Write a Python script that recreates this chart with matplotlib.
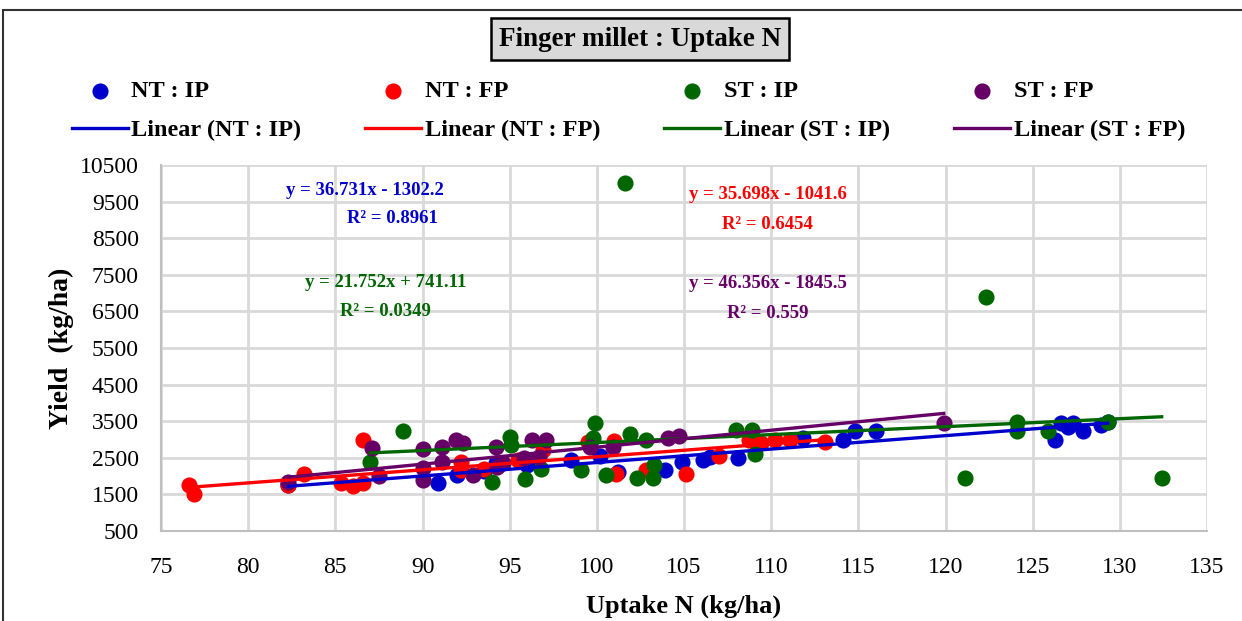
import matplotlib
matplotlib.use("Agg")
import matplotlib.pyplot as plt
from matplotlib.patches import Rectangle
import numpy as np

plt.rcParams["font.family"] = ["Liberation Serif", "DejaVu Serif"]

# NT : IP
nt_ip_x = [82.3, 90.9, 92.0, 93.5, 94.2, 96.0, 98.5, 100.2, 101.2, 103.9, 104.9, 106.1, 106.5,
           108.1, 111.8, 114.1, 114.8, 116.0, 126.3, 126.6, 127.0, 127.3, 127.9, 128.9, 129.3]
nt_ip_y = [1750, 1800, 2030, 2150, 2350, 2300, 2450, 2550, 2100, 2170, 2380, 2440, 2520,
           2500, 3040, 2990, 3220, 3220, 2980, 3450, 3350, 3460, 3220, 3400, 3480]
# NT : FP
nt_fp_x = [76.6, 76.9, 82.3, 83.2, 85.3, 86.0, 86.6, 86.6, 92.2, 92.2, 93.5, 95.5, 96.9, 99.5,
           101.0, 101.1, 102.8, 105.1, 107.0, 108.7, 109.4, 110.2, 111.1, 113.1]
nt_fp_y = [1750, 1500, 1750, 2050, 1820, 1720, 1820, 3000, 2170, 2380, 2200, 2450, 2700, 2920,
           2970, 2060, 2170, 2050, 2560, 3000, 2900, 2980, 3000, 2930]
# ST : IP
st_ip_x = [87.0, 88.9, 94.0, 95.0, 95.1, 95.9, 96.8, 99.1, 99.9, 99.8, 100.5, 101.6, 101.9, 102.3,
           102.8, 103.2, 103.3, 108.0, 108.9, 109.1, 121.1, 122.3, 124.1, 124.1, 125.9, 129.3, 132.4]
st_ip_y = [2380, 3230, 1830, 3080, 2850, 1930, 2200, 2180, 3450, 3050, 2030, 10000, 3150, 1960,
           2980, 1960, 2300, 3260, 3260, 2600, 1950, 6900, 3480, 3230, 3230, 3480, 1950]
# ST : FP
st_fp_x = [82.3, 87.1, 87.5, 90.0, 90.0, 90.0, 91.1, 91.1, 91.9, 92.3, 92.9, 94.2, 94.3, 94.6,
           95.8, 96.3, 96.7, 97.1, 99.6, 100.9, 104.1, 104.7, 119.9]
st_fp_y = [1850, 2780, 2000, 2750, 2230, 1900, 2800, 2380, 2980, 2900, 2020, 2790, 2250, 2370,
           2490, 2990, 2520, 2990, 2800, 2800, 3050, 3090, 3450]

names = ["NT : IP", "NT : FP", "ST : IP", "ST : FP"]
colors = ["#0000cc", "#ff0000", "#006600", "#660066"]
slopes = [36.731, 35.698, 21.752, 46.356]
intercepts = [-1302.2, -1041.6, 741.11, -1845.5]
r2 = ["0.8961", "0.6454", "0.0349", "0.559"]
# label anchor (data coords) for equation and R²
eq_pos = [(86.7, 9810, 88.3, 9045), (109.8, 9700, 109.8, 8880),
          (87.9, 7300, 87.9, 6500), (109.8, 7250, 109.8, 6450)]

xs = [nt_ip_x, nt_fp_x, st_ip_x, st_fp_x]
ys = [nt_ip_y, nt_fp_y, st_ip_y, st_fp_y]

fig = plt.figure(figsize=(12.42, 6.21), dpi=100)
ax = fig.add_axes([161 / 1242, 1 - 531 / 621, (1207 - 161) / 1242, (531 - 165) / 621])

handles = []
for i in range(4):
    sc = ax.scatter(xs[i], ys[i], s=135, color=colors[i], zorder=3, label=names[i], linewidths=0)
    xr = np.array([min(xs[i]), max(xs[i])])
    ln, = ax.plot(xr, slopes[i] * xr + intercepts[i], color=colors[i], lw=2.4, zorder=4,
                  label=f"Linear ({names[i]})")
    handles += [sc, ln]
    sign = "-" if intercepts[i] < 0 else "+"
    ex, ey, rx, ry = eq_pos[i]
    ax.text(ex, ey, f"y = {slopes[i]}x {sign} {abs(intercepts[i])}", color=colors[i],
            fontsize=13.5, fontweight="bold", ha="center", va="center")
    ax.text(rx, ry, f"R² = {r2[i]}", color=colors[i], fontsize=13.5, fontweight="bold",
            ha="center", va="center")

ax.set_xlim(75, 135)
ax.set_ylim(500, 10500)
ax.set_xticks(np.arange(75, 136, 5))
ax.set_yticks(np.arange(500, 10501, 1000))
ax.grid(True, color="#d9d9d9", lw=2)
ax.set_axisbelow(True)
for s in ["top", "right"]:
    ax.spines[s].set_visible(False)
for s in ["left", "bottom"]:
    ax.spines[s].set_color("#bfbfbf")
    ax.spines[s].set_linewidth(1.5)
ax.tick_params(length=0, labelsize=17)
ax.tick_params(axis="x", pad=19)
ax.tick_params(axis="y", pad=16)
ax.set_xlabel("Uptake N (kg/ha)", fontsize=19, fontweight="bold", labelpad=12)
ax.set_ylabel("Yield  (kg/ha)", fontsize=20, fontweight="bold", labelpad=4)

fig.legend(handles=handles, ncol=4, loc="lower left", mode="expand",
           bbox_to_anchor=(50 / 1242, 1 - 163 / 621, (1207 - 50) / 1242, 0.1),
           frameon=False, prop={"size": 17.5, "weight": "bold"}, handlelength=2.3,
           handletextpad=0.15, labelspacing=0.7, markerscale=1.0)

fig.text(640 / 1242, 1 - 39 / 621, "Finger millet : Uptake N", fontsize=19.5, fontweight="bold",
         ha="center", va="center",
         bbox=dict(boxstyle="square,pad=0.3", facecolor="#d9d9d9", edgecolor="black", lw=1.8))

fig.patches.append(Rectangle((3 / 1242, -0.1), 1.2, 1 - 10 / 621 + 0.1, transform=fig.transFigure,
                             fill=False, edgecolor="#333333", lw=1.5))

fig.savefig("out.png", dpi=100)
